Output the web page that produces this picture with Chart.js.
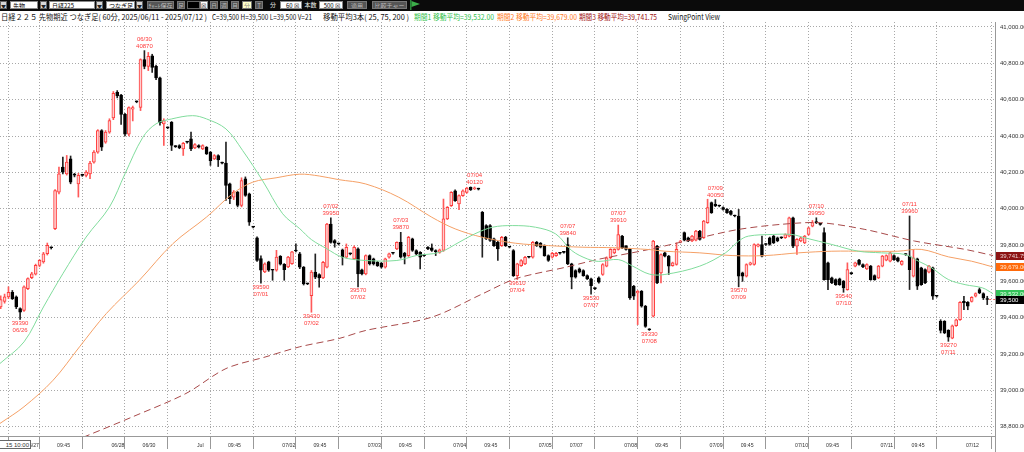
<!DOCTYPE html>
<html><head><meta charset="utf-8">
<script src="https://cdn.jsdelivr.net/npm/chart.js@4.4.0/dist/chart.umd.min.js"></script>
<style>
html,body{margin:0;padding:0;width:1024px;height:452px;overflow:hidden;background:#fff;}
#wrap{position:relative;width:1024px;height:452px;}
#c{position:absolute;left:0;top:0;}
#tb{position:absolute;left:0;top:0;width:1024px;height:11px;background:#0b0b0b;}
#tb div{position:absolute;top:1px;height:8px;line-height:8px;font-family:"Noto Sans CJK JP";font-size:6px;text-align:center;overflow:hidden;box-sizing:border-box;}
#tb .w{background:#fff;color:#000;text-align:left;padding-left:2px;border:1px solid #888;}
#tb .b{background:#d8d8d8;color:#222;border:1px solid #666;font-size:5px;}
#tb .g{background:#555;color:#bbb;border:1px solid #777;}
#tb .y{background:#ffffc8;color:#888;border:1px solid #777;}
#tb .k{background:#000;border:1px solid #666;}
#tb .l{color:#eee;}
#tb .r{text-align:right;padding-right:2px;}
#hd{position:absolute;left:0;top:11px;width:1024px;height:11px;background:#fff;}
#hd span{position:absolute;top:1px;white-space:nowrap;font-family:"Noto Sans CJK JP";font-size:8px;line-height:9px;transform-origin:0 50%;color:#111;}
#lbox{position:absolute;left:-1px;top:440px;width:32px;height:9px;border:1px solid #666;background:#fff;font:6px "Liberation Sans";line-height:9px;color:#333;overflow:hidden;white-space:nowrap;text-align:right;padding-right:1px;box-sizing:border-box;}
</style></head>
<body><div id="wrap">
<canvas id="c" width="1024" height="452"></canvas>
<div id="tb">
 <div class="b" style="left:0;width:7px">▼</div>
 <div class="w" style="left:10px;width:28px">先物</div>
 <div class="b" style="left:40px;width:7px">▼</div>
 <div class="w" style="left:49px;width:46px">日経225</div>
 <div class="b" style="left:96px;width:7px">▼</div>
 <div class="w" style="left:106px;width:29px">つなぎ足</div>
 <div class="b" style="left:136px;width:7px">▼</div>
 <div class="g" style="left:147px;width:27px">ﾁｬｰﾄ保存</div>
 <div class="g" style="left:177px;width:8px">足</div>
 <div class="k" style="left:187px;width:13px"></div>
 <div class="w" style="left:200px;width:8px;padding:0">☒</div>
 <div class="g" style="left:210px;width:8px">日</div>
 <div class="g" style="left:220px;width:8px">週</div>
 <div class="g" style="left:231px;width:8px">月</div>
 <div class="y" style="left:242px;width:10px">分</div>
 <div class="g" style="left:255px;width:8px">T</div>
 <div class="l" style="left:268px;width:10px">分</div>
 <div class="w r" style="left:280px;width:22px">60 ☒</div>
 <div class="l" style="left:303px;width:15px">本数</div>
 <div class="w r" style="left:319px;width:24px">500 ☒</div>
 <div class="g" style="left:347px;width:20px">適用</div>
 <div class="g" style="left:372px;width:35px">比較チャート</div>
 <div style="left:409px;width:12px;height:10px;top:0"><svg width="12" height="10"><rect x="1" y="0" width="1.5" height="10" fill="#2a8a3a"/><polygon points="2.5,1 11,4 2.5,7" fill="#3cb04a"/></svg></div>
</div>
<div id="hd">
 <span data-l="1" data-w="206">日経２２５ 先物期近 つなぎ足( 60分, 2025/06/11 - 2025/07/12 )</span>
 <span data-l="212" data-w="100">C=39,500 H=39,500 L=39,500 V=21</span>
 <span data-l="323" data-w="86">移動平均3本( 25, 75, 200 )</span>
 <span data-l="414" data-w="80" style="color:#2fbf4a">期間1 移動平均=39,532.00</span>
 <span data-l="497" data-w="80" style="color:#ff7a1e">期間2 移動平均=39,679.00</span>
 <span data-l="579" data-w="78" style="color:#a01010">期間3 移動平均=39,741.75</span>
 <span data-l="668" data-w="52">SwingPoint View</span>
</div>
<div id="lbox">15 10:00</div>
</div>
<script>
// ---- x axis ticks (bar index) and labels ----
const tickIdx = [6,14,28,36,50,58,72,80,94,102,116,124,138,146,160,168,182,190,204,212,226,234,248];
const tickLabels = ["06/27","09:45","06/28","06/30","Jul","09:45","07/02","09:45","07/03","09:45","07/04","09:45","07/05","07/07","07/08","09:45","07/09","09:45","07/10","09:45","07/11","09:45","07/12"];
// ---- y axis ticks ----
const yTicks = [38800,39000,39200,39400,39600,39800,40000,40200,40400,40600,40800,41000];
// ---- 60-min OHLC ----
const openP = [39460,39490,39515,39540,39515,39450,39440,39560,39620,39640,39688,39707,39752,39785,39890,40091,40229,40192,40274,40185,40137,40183,40183,40192,40256,40311,40430,40366,40421,40500,40640,40625,40519,40410,40548,40588,40557,40820,40783,40842,40783,40720,40467,40445,40476,40342,40348,40329,40366,40384,40335,40348,40329,40338,40311,40274,40293,40251,40251,40137,40064,40091,40018,40164,40082,39899,39840,39725,39652,39707,39661,39661,39738,39694,39679,39697,39767,39751,39678,39586,39522,39651,39637,39619,39678,39916,39825,39806,39773,39733,39751,39724,39779,39663,39641,39742,39724,39705,39700,39678,39733,39755,39779,39815,39755,39742,39834,39770,39760,39742,39788,39784,39770,39760,39770,39944,40017,40099,40026,40072,40090,40118,40110,40108,39980,39907,39907,39834,39815,39797,39843,39788,39770,39632,39687,39696,39733,39733,39815,39810,39797,39742,39733,39742,39755,39760,39803,39696,39660,39669,39660,39632,39614,39560,39620,39638,39684,39730,39757,39776,39849,39794,39776,39573,39536,39545,39463,39334,39408,39794,39647,39757,39739,39687,39693,39816,39868,39840,39822,39827,39877,39840,39923,40033,40024,40015,40006,39996,39987,39960,39960,39647,39628,39693,39693,39794,39803,39803,39840,39849,39840,39840,39840,39849,39950,39794,39822,39812,39858,39904,39923,39914,39868,39702,39619,39610,39614,39601,39555,39643,39684,39717,39693,39669,39684,39632,39619,39684,39717,39711,39742,39730,39693,39748,39739,39628,39724,39674,39665,39650,39674,39518,39380,39380,39330,39288,39356,39389,39490,39485,39490,39518,39555,39533,39500];
const highP = [39520,39530,39570,39550,39520,39455,39575,39620,39650,39695,39720,39760,39811,39790,40105,40229,40284,40293,40290,40195,40195,40190,40210,40260,40320,40435,40435,40430,40495,40645,40650,40630,40525,40560,40565,40593,40825,40870,40860,40850,40790,40725,40495,40450,40480,40347,40352,40365,40370,40421,40358,40352,40352,40342,40315,40298,40297,40256,40366,40141,40100,40095,40170,40175,40086,39903,39845,39740,39702,39711,39666,39771,39742,39698,39738,39766,39807,39760,39682,39590,39660,39751,39642,39710,39920,39950,39830,39810,39778,39806,39756,39795,39784,39668,39746,39746,39728,39710,39704,39728,39756,39760,39818,39870,39760,39848,39838,39774,39764,39747,39792,39806,39774,39778,40053,40012,40094,40104,40076,40104,40118,40120,40120,40113,39985,39912,39912,39838,39820,39848,39848,39792,39775,39700,39720,39738,39737,39820,39820,39814,39801,39746,39760,39760,39760,39765,39840,39700,39664,39674,39664,39636,39618,39565,39625,39698,39735,39780,39780,39910,39853,39798,39780,39578,39550,39550,39468,39340,39826,39798,39752,39761,39743,39706,39812,39826,39872,39844,39853,39881,39881,39936,40052,40037,40050,40020,40010,40000,39991,39965,39996,39651,39697,39706,39807,39807,39849,39808,39844,39853,39844,39845,39862,39954,39954,39835,39844,39853,39899,39935,39950,39919,39895,39706,39623,39614,39618,39605,39702,39648,39706,39721,39697,39697,39688,39636,39688,39743,39746,39761,39746,39734,39715,39753,39960,39776,39728,39678,39669,39688,39678,39523,39389,39384,39334,39360,39393,39489,39518,39489,39516,39537,39564,39537,39518];
const lowP = [39450,39480,39505,39500,39450,39390,39435,39555,39615,39635,39680,39700,39745,39778,39885,40082,40192,40185,40137,40175,40064,40178,40175,40165,40250,40305,40320,40360,40415,40490,40610,40464,40400,40400,40483,40583,40540,40770,40760,40750,40710,40460,40348,40440,40320,40337,40330,40293,40361,40320,40330,40334,40325,40298,40238,40270,40232,40246,40045,40027,40050,40010,40010,40068,39908,39894,39710,39590,39648,39655,39606,39656,39690,39606,39675,39693,39762,39670,39580,39582,39430,39615,39568,39615,39674,39810,39788,39800,39690,39728,39746,39720,39570,39636,39636,39690,39690,39682,39673,39673,39728,39750,39774,39728,39696,39737,39765,39746,39669,39737,39774,39765,39742,39755,39765,39940,40012,40040,39995,40068,40085,40100,40105,40103,39733,39830,39820,39792,39715,39792,39792,39784,39627,39610,39682,39692,39729,39728,39792,39784,39738,39710,39728,39738,39750,39755,39692,39559,39618,39646,39628,39610,39530,39555,39590,39633,39680,39725,39752,39772,39780,39772,39500,39500,39362,39458,39347,39330,39404,39588,39592,39735,39638,39683,39689,39812,39823,39818,39818,39823,39827,39836,39919,39974,40011,40010,39992,39974,39965,39955,39570,39600,39624,39689,39689,39790,39735,39798,39799,39808,39818,39835,39836,39845,39785,39748,39818,39808,39854,39900,39918,39909,39606,39555,39588,39578,39578,39540,39551,39638,39680,39689,39676,39665,39606,39606,39615,39680,39713,39707,39716,39707,39689,39743,39555,39624,39555,39578,39588,39646,39500,39513,39316,39312,39270,39284,39352,39385,39444,39444,39486,39514,39532,39500,39472];
const closeP = [39500,39515,39540,39505,39460,39430,39570,39615,39642,39688,39716,39752,39798,39785,40100,40192,40201,40256,40146,40185,40183,40183,40201,40251,40311,40430,40338,40421,40485,40635,40620,40519,40410,40556,40556,40588,40820,40783,40838,40778,40720,40474,40485,40445,40348,40342,40335,40360,40366,40329,40353,40338,40348,40302,40265,40293,40269,40251,40128,40055,40091,40018,40155,40073,39926,39899,39716,39661,39697,39661,39661,39734,39694,39664,39734,39762,39767,39678,39586,39586,39651,39623,39619,39705,39916,39815,39810,39806,39733,39788,39751,39788,39641,39641,39742,39696,39696,39687,39678,39724,39751,39755,39815,39733,39737,39843,39770,39751,39733,39742,39779,39770,39764,39773,39944,40008,40090,40044,40072,40099,40114,40105,40112,40108,39843,39834,39825,39797,39779,39843,39797,39788,39632,39696,39715,39733,39733,39815,39797,39788,39742,39715,39755,39755,39755,39760,39696,39623,39623,39651,39632,39614,39577,39560,39595,39693,39730,39776,39776,39858,39785,39776,39509,39518,39545,39463,39352,39334,39822,39592,39748,39739,39684,39702,39776,39822,39827,39822,39849,39877,39831,39932,40006,39978,40015,40015,39996,39978,39969,39960,39628,39628,39693,39702,39803,39803,39739,39803,39803,39812,39822,39840,39858,39950,39794,39831,39840,39849,39895,39923,39923,39914,39610,39610,39592,39582,39582,39564,39665,39643,39702,39693,39680,39693,39610,39610,39684,39739,39742,39757,39720,39711,39711,39748,39665,39730,39573,39582,39592,39684,39518,39518,39330,39316,39293,39356,39389,39485,39481,39463,39512,39533,39536,39509,39500];
// ---- moving averages (sampled readings: bar index, value) ----
const ma25Idx = [-0.2,6,11,16,22,28,32,36.6,40,44,49.4,53,58,62.3,67.4,72.6,77,80,84,88,94,102,107,113,118,122,126.6,131.7,137.7,142.9,147,151,154,159,162.7,167,171,180,186.6,190,192.5,198.6,203.7,207,214,220.8,226.8,232.8,236.3,239.7,244,248.3,252.8,255.5];
const ma25Val = [39148,39267,39459,39642,39844,40009,40192,40393,40467,40494,40512,40494,40439,40320,40155,39972,39890,39830,39779,39733,39715,39715,39742,39760,39815,39861,39898,39907,39898,39861,39770,39724,39710,39720,39684,39640,39638,39684,39757,39822,39849,39858,39858,39840,39803,39766,39757,39748,39711,39674,39610,39582,39564,39532];
const ma75Idx = [-0.2,6,13.5,20.3,27.2,35.7,44.3,53,59.7,64.9,70.9,77,82,87,94,102.5,111,117,124,132.5,141,149.7,158,167,171,180,188.3,196.8,205.4,214,222.5,231,237,244,250,255.5];
const ma75Val = [38818,38910,39056,39240,39423,39606,39807,39954,40082,40146,40170,40190,40180,40160,40136,40063,39953,39889,39843,39810,39797,39788,39785,39775,39766,39757,39742,39742,39757,39766,39766,39766,39776,39735,39711,39679];
const ma200Idx = [16,21.6,34,47.7,58,68.3,77,87,94,111,124,132.5,145.5,154,167,180,190,201,211,222.5,235.3,248.3,255.5];
const ma200Val = [38695,38745,38855,38983,39120,39185,39240,39285,39330,39403,39531,39614,39678,39722,39776,39840,39886,39914,39923,39886,39822,39776,39742];
// ---- swing points ----
const swingIdx = [5,37,67,80,85,92,103,122,133,146,152,159,167,184,190,210,217,234,244];
const swingHigh = [false,true,false,false,true,false,true,true,false,true,false,true,false,true,false,true,false,true,false];
const swingDate = ["06/26","06/30","07/01","07/02","07/02","07/02","07/03","07/04","07/04","07/07","07/07","07/07","07/08","07/09","07/09","07/10","07/10","07/11","07/11"];
const swingPrice = [39390,40870,39590,39430,39950,39570,39870,40120,39610,39840,39530,39910,39330,40050,39570,39950,39540,39960,39270];
// ---- latest values (right-edge boxes) ----
const lastVals = [39741.75, 39679.00, 39532.00, 39500];
const lastText = ["39,741.75","39,679.00","39,532.00","39,500"];

const isUp = i => closeP[i] > openP[i];
const bodies = openP.map((o,i)=>({x:i, y:[o, closeP[i]]}));
const wicks = lowP.map((l,i)=>({x:i, y:[l, highP[i]]}));
const pts = (a,b)=>a.map((v,k)=>({x:v,y:b[k]}));

const boxColors = [['#8c1414','#e8d0d0'],['#ff6a0a','#ffe6d0'],['#33c35a','#e6ffe9'],['#000','#fff']];

const extras = {
  id:'extras',
  afterDatasetsDraw(ch){
    const {ctx, scales:{x,y}} = ch;
    ctx.save();
    ctx.font = '6px "Liberation Sans"';
    ctx.fillStyle = '#ff3a3a';
    ctx.textAlign = 'center';
    swingIdx.forEach((idx,k)=>{
      const px = x.getPixelForValue(idx), py = y.getPixelForValue(swingPrice[k]);
      if (swingHigh[k]) {
        ctx.textBaseline = 'alphabetic';
        ctx.fillText(String(swingPrice[k]), px, py-3);
        ctx.fillText(swingDate[k], px, py-10);
      } else {
        ctx.textBaseline = 'top';
        ctx.fillText(String(swingPrice[k]), px, py+1);
        ctx.fillText(swingDate[k], px, py+8);
      }
    });
    const ly = y.getPixelForValue(lastVals[3]);
    ctx.strokeStyle = '#ff5a5a'; ctx.lineWidth = 1; ctx.setLineDash([2,2]);
    ctx.beginPath(); ctx.moveTo(x.getPixelForValue(openP.length-0.5), ly); ctx.lineTo(ch.chartArea.right, ly); ctx.stroke();
    ctx.restore();
  },
  afterDraw(ch){
    const {ctx, scales:{y}, chartArea:a} = ch;
    ctx.save();
    ctx.strokeStyle = '#999'; ctx.lineWidth = 1;
    ctx.beginPath(); ctx.moveTo(a.right+0.5, a.bottom); ctx.lineTo(a.right+0.5, 452); ctx.stroke();
    ctx.font = '6px "Liberation Sans"'; ctx.textBaseline = 'middle'; ctx.textAlign = 'left';
    lastVals.forEach((v,k)=>{
      const py = Math.round(y.getPixelForValue(v));
      ctx.fillStyle = boxColors[k][0];
      ctx.fillRect(a.right+1, py-4, 1024-a.right, 8);
      ctx.fillStyle = boxColors[k][1];
      ctx.fillText(lastText[k], a.right+5, py);
    });
    ctx.restore();
  }
};

Chart.defaults.font.family = '"Liberation Sans"';
new Chart(document.getElementById('c'), {
  type:'bar',
  data:{ datasets:[
    {type:'line', data:pts(ma25Idx,ma25Val), borderColor:'#80dc9c', borderWidth:1, pointRadius:0, tension:0.35, order:0},
    {type:'line', data:pts(ma75Idx,ma75Val), borderColor:'#f5a066', borderWidth:1, pointRadius:0, tension:0.35, order:0},
    {type:'line', data:pts(ma200Idx,ma200Val), borderColor:'#a84a4a', borderWidth:1, borderDash:[7,4], pointRadius:0, tension:0.3, order:0},
    {type:'bar', data:bodies, order:1, grouped:false, barThickness:3, minBarLength:1, borderWidth:1, borderSkipped:false,
      backgroundColor:c=>isUp(c.dataIndex)?'#ffcfcf':'#000', borderColor:c=>isUp(c.dataIndex)?'#ff3c3c':'#000'},
    {type:'bar', data:wicks, order:2, grouped:false, barThickness:1, borderWidth:0,
      backgroundColor:c=>isUp(c.dataIndex)?'#ff5a5a':'#222'}
  ]},
  options:{
    responsive:false, animation:false, devicePixelRatio:1,
    layout:{padding:{top:22,left:0,right:0,bottom:0}},
    plugins:{legend:{display:false}, tooltip:{enabled:false}},
    scales:{
      x:{type:'linear', min:-0.18, max:256.0, offset:false,
        afterBuildTicks:s=>{ s.ticks = tickIdx.map(v=>({value:v})); },
        afterFit:s=>{ s.height = 16; s.paddingLeft = 0; s.paddingRight = 0; },
        ticks:{autoSkip:false, maxRotation:0, minRotation:0, align:'start', labelOffset:2, padding:-7,
          font:{size:5.2}, color:'#333', callback:(v,i)=>tickLabels[i]},
        grid:{color:'#a8a8a8', lineWidth:1, drawTicks:true, tickLength:13, tickColor:'#999'},
        border:{display:true, color:'#999', dash:[1,2]}
      },
      y:{position:'right', min:38749, max:41027.5,
        afterBuildTicks:s=>{ s.ticks = yTicks.map(v=>({value:v})); },
        afterFit:s=>{ s.width = 29; s.paddingTop = 0; s.paddingBottom = 0; },
        ticks:{padding:5, font:{size:6}, color:'#333',
          callback:v=>Number(v).toLocaleString('en-US',{minimumFractionDigits:2,maximumFractionDigits:2})},
        grid:{color:'#a8a8a8', lineWidth:1, drawTicks:false},
        border:{display:true, color:'#999', dash:[1,2]}
      }
    }
  },
  plugins:[extras]
});
document.querySelectorAll('#hd span').forEach(s=>{
  s.style.left = s.dataset.l + 'px';
  const w = s.getBoundingClientRect().width;
  if (w > 0) s.style.transform = 'scaleX(' + (Number(s.dataset.w)/w) + ')';
});
</script>
</body></html>
